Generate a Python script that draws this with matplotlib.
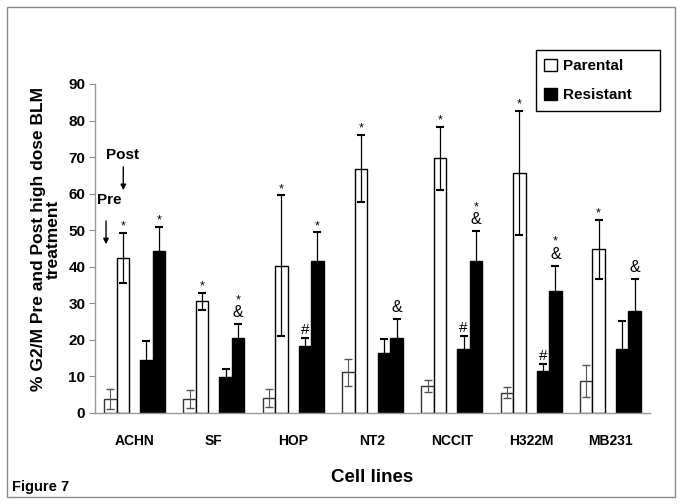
import matplotlib
matplotlib.use("Agg")
import matplotlib.pyplot as plt
from matplotlib.patches import Patch, Rectangle
import numpy as np

plt.rcParams['font.family'] = ['Liberation Sans', 'DejaVu Sans']

cells = ['ACHN', 'SF', 'HOP', 'NT2', 'NCCIT', 'H322M', 'MB231']
par_pre = [3.8, 3.8, 4.1, 11.1, 7.4, 5.5, 8.7]
par_pre_err = [2.7, 2.4, 2.4, 3.6, 1.6, 1.5, 4.4]
par_post = [42.4, 30.6, 40.3, 66.8, 69.7, 65.6, 44.8]
par_post_err = [6.9, 2.3, 19.2, 9.2, 8.6, 17.0, 8.1]
res_pre = [14.5, 9.8, 18.3, 16.5, 17.4, 11.6, 17.4]
res_pre_err = [5.3, 2.1, 2.1, 3.7, 3.6, 1.8, 7.8]
res_post = [44.2, 20.5, 41.7, 20.5, 41.7, 33.5, 28.0]
res_post_err = [6.7, 3.8, 7.7, 5.3, 8.1, 6.8, 8.7]
par_post_mark = ['*', '*', '*', '*', '*', '*', '*']
res_pre_mark = ['', '', '#', '', '#', '#', '']
res_post_mark = ['*', '*&', '*', '&', '*&', '*&', '&']
yticks = [0, 10, 20, 30, 40, 50, 60, 70, 80, 90]

W, H = 683, 504
fig = plt.figure(figsize=(W / 100, H / 100), dpi=100)
ax = fig.add_axes([95 / W, 1 - 413 / H, (650 - 95) / W, (413 - 84) / H])

x = np.arange(len(cells))
bw = 0.158
off = [-0.306, -0.148, 0.148, 0.306]

ax.bar(x + off[0], par_pre, bw, color='white', edgecolor='#333333', lw=1, zorder=2)
ax.bar(x + off[1], par_post, bw, color='white', edgecolor='black', lw=1, zorder=2)
ax.bar(x + off[2], res_pre, bw, color='black', edgecolor='black', lw=1, zorder=2)
ax.bar(x + off[3], res_post, bw, color='black', edgecolor='black', lw=1, zorder=2)

ax.errorbar(x + off[0], par_pre, yerr=par_pre_err, fmt='none', ecolor='#555555',
            elinewidth=0.8, capsize=3, capthick=1, zorder=3)
ax.errorbar(x + off[1], par_post, yerr=par_post_err, fmt='none', ecolor='black',
            elinewidth=0.9, capsize=3, capthick=1.5, zorder=3)
ax.errorbar(x + off[2], res_pre, yerr=res_pre_err, fmt='none', ecolor='black',
            elinewidth=0.9, capsize=3, capthick=1.5, zorder=3)
ax.errorbar(x + off[3], res_post, yerr=res_post_err, fmt='none', ecolor='black',
            elinewidth=0.9, capsize=3, capthick=1.5, zorder=3)


def mark(xi, top, s):
    if s == '*':
        ax.annotate('*', (xi, top), xytext=(0, 2.5), textcoords='offset points',
                    ha='center', va='baseline', fontsize=9)
    elif s == '&':
        ax.annotate('&', (xi, top), xytext=(0, 5), textcoords='offset points',
                    ha='center', va='baseline', fontsize=11.5)
    elif s == '#':
        ax.annotate('#', (xi, top), xytext=(0, 3), textcoords='offset points',
                    ha='center', va='baseline', fontsize=11)
    elif s == '*&':
        ax.annotate('&', (xi, top), xytext=(0, 5), textcoords='offset points',
                    ha='center', va='baseline', fontsize=11.5)
        ax.annotate('*', (xi, top), xytext=(0, 15), textcoords='offset points',
                    ha='center', va='baseline', fontsize=9)


for i in range(len(cells)):
    mark(x[i] + off[1], par_post[i] + par_post_err[i], par_post_mark[i])
    mark(x[i] + off[2], res_pre[i] + res_pre_err[i], res_pre_mark[i])
    mark(x[i] + off[3], res_post[i] + res_post_err[i], res_post_mark[i])

ax.set_xlim(-0.5, 6.5)
ax.set_ylim(0, 90)
ax.set_yticks(yticks)
ax.set_yticklabels([str(t) for t in yticks], fontsize=11, fontweight='bold')
ax.set_xticks(x)
ax.set_xticklabels(cells, fontsize=10, fontweight='bold')
ax.tick_params(axis='x', length=0, pad=15)
ax.tick_params(axis='y', length=4, width=0.8, color='#888888', pad=3)
for s in ['top', 'right']:
    ax.spines[s].set_visible(False)
for s in ['left', 'bottom']:
    ax.spines[s].set_color('#999999')
    ax.spines[s].set_linewidth(1)

ax.set_ylabel('% G2/M Pre and Post high dose BLM\ntreatment', fontsize=12.5,
              fontweight='bold', linespacing=1.0, va='center', ha='center')
ax.yaxis.set_label_coords((46 - 95) / 555, (413 - 239) / 329)

# Pre / Post labels with arrows
ax.annotate('', xy=(-0.361, 45.4), xytext=(-0.361, 53.3),
            arrowprops=dict(arrowstyle='-|>', color='black', lw=1, mutation_scale=8))
ax.text(-0.323, 58.3, 'Pre', ha='center', va='center', fontsize=11, fontweight='bold')
ax.annotate('', xy=(-0.143, 60.2), xytext=(-0.143, 68.1),
            arrowprops=dict(arrowstyle='-|>', color='black', lw=1, mutation_scale=8))
ax.text(-0.153, 70.6, 'Post', ha='center', va='center', fontsize=11, fontweight='bold')

handles = [Patch(facecolor='white', edgecolor='black', lw=1),
           Patch(facecolor='black', edgecolor='black', lw=1)]
leg = fig.legend(handles, ['Parental', 'Resistant'], loc='upper left',
                 bbox_to_anchor=(536 / W, 1 - 51 / H, (660 - 536) / W, 0.001),
                 mode='expand', frameon=True, fancybox=False, framealpha=1,
                 edgecolor='black', handlelength=0.8, handleheight=0.8,
                 handletextpad=0.45, labelspacing=1.0, borderpad=0.55,
                 borderaxespad=0, prop={'weight': 'bold', 'size': 11})
leg.get_frame().set_linewidth(1)

fig.text(372 / W, 1 - 477 / H, 'Cell lines', ha='center', va='center',
         fontsize=13.5, fontweight='bold')
fig.text(12 / W, 1 - 487 / H, 'Figure 7', ha='left', va='center',
         fontsize=10.5, fontweight='bold')

fig.patches.append(Rectangle((7 / W, 1 - 497 / H), (675 - 7) / W, (497 - 7) / H,
                             transform=fig.transFigure, fill=False,
                             edgecolor='#888888', lw=1))

fig.savefig('out.png', dpi=100)
